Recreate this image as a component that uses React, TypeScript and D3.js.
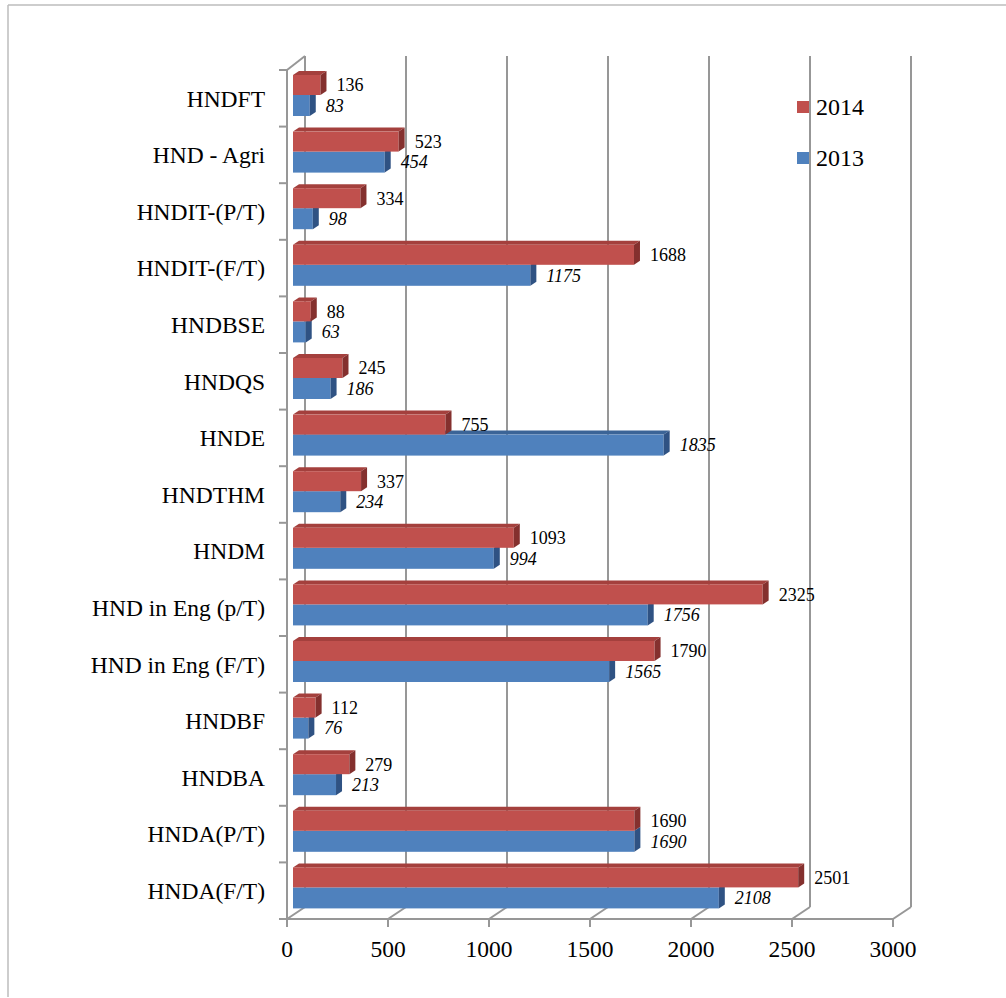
import * as d3 from 'd3';

const categories = [
  'HNDFT',
  'HND - Agri',
  'HNDIT-(P/T)',
  'HNDIT-(F/T)',
  'HNDBSE',
  'HNDQS',
  'HNDE',
  'HNDTHM',
  'HNDM',
  'HND in Eng (p/T)',
  'HND in Eng (F/T)',
  'HNDBF',
  'HNDBA',
  'HNDA(P/T)',
  'HNDA(F/T)',
];
const values2014 = [136, 523, 334, 1688, 88, 245, 755, 337, 1093, 2325, 1790, 112, 279, 1690, 2501];
const values2013 = [83, 454, 98, 1175, 63, 186, 1835, 234, 994, 1756, 1565, 76, 213, 1690, 2108];
const xTicks = [0, 500, 1000, 1500, 2000, 2500, 3000];
const seriesNames = ['2014', '2013'];

const W = 1006;
const H = 998;
const FONT = '"Liberation Serif", "Times New Roman", serif';
const GRID = '#979797';

// plot geometry (front plane of the 3D box)
const frontX = 287;
const floorY = 919;
const topY = 70;
const depthX = 18;
const depthY = -12;
const barX = 293; // bars sit between front and back
const barDX = 6;
const barDY = -4;

const RED = { front: '#C0504D', top: '#A4403D', side: '#84302E' };
const BLUE = { front: '#4F81BD', top: '#3B6497', side: '#2F5283' };

export default function App() {
  const x = d3.scaleLinear().domain([0, 3000]).range([0, 606]);
  const y = d3.scaleBand<string>().domain(categories).range([topY, floorY]).padding(0);
  const bw = y.bandwidth();

  const bar = (v: number, yt: number, yb: number, c: typeof RED, key: string, hideTop: boolean) => {
    const x0 = barX;
    const xe = barX + x(v);
    const top = `M${x0},${yt} L${x0 + barDX},${yt + barDY} L${xe + barDX},${yt + barDY} L${xe},${yt} Z`;
    const side = `M${xe},${yt} L${xe + barDX},${yt + barDY} L${xe + barDX},${yb + barDY} L${xe},${yb} Z`;
    return (
      <g key={key}>
        {!hideTop && <path d={top} fill={c.top} />}
        <rect x={x0} y={yt} width={xe - x0} height={yb - yt} fill={c.front} />
        <path d={side} fill={c.side} />
      </g>
    );
  };

  return (
    <svg
      width={W}
      height={H}
      style={{ position: 'absolute', left: 0, top: 0, background: '#fff' }}
      fontFamily={FONT}
    >
      {/* outer frame */}
      <line x1={8} y1={5} x2={W} y2={5} stroke="#bdbdbd" strokeWidth={1.5} />
      <line x1={8} y1={5} x2={8} y2={997} stroke="#bdbdbd" strokeWidth={1.5} />

      {/* back wall gridlines + floor lines */}
      <g stroke={GRID} strokeWidth={2} fill="none">
        {xTicks.map((t) => (
          <g key={t}>
            <line
              x1={frontX + depthX + x(t)}
              y1={floorY + depthY}
              x2={frontX + depthX + x(t)}
              y2={topY - 14}
            />
            <line
              x1={frontX + x(t)}
              y1={floorY}
              x2={frontX + depthX + x(t)}
              y2={floorY + depthY}
            />
            <line x1={frontX + x(t)} y1={floorY} x2={frontX + x(t)} y2={floorY + 8} />
          </g>
        ))}
        <line x1={frontX} y1={floorY} x2={frontX + x(3000)} y2={floorY} />
        {/* left wall */}
        <line x1={frontX} y1={topY} x2={frontX} y2={floorY} />
        <line x1={frontX} y1={topY} x2={frontX + depthX} y2={topY - 14} />
        {categories.map((c) => (
          <line key={c} x1={frontX - 8} y1={y(c)!} x2={frontX} y2={y(c)!} />
        ))}
        <line x1={frontX - 8} y1={floorY} x2={frontX} y2={floorY} />
      </g>

      {/* bars */}
      {categories.map((c, i) => {
        const b = y(c)!;
        const rt = b + 5;
        const mid = b + 25;
        const bb = b + 46;
        return (
          <g key={c}>
            {bar(values2013[i], mid, bb, BLUE, 'b', values2013[i] <= values2014[i])}
            {bar(values2014[i], rt, mid, RED, 'r', false)}
            <text
              x={barX + x(values2014[i]) + 16}
              y={(rt + mid) / 2}
              dy="0.35em"
              fontSize={18}
              fill="#000"
            >
              {values2014[i]}
            </text>
            <text
              x={barX + x(values2013[i]) + 16}
              y={(mid + bb) / 2}
              dy="0.35em"
              fontSize={18}
              fontStyle="italic"
              fill="#000"
            >
              {values2013[i]}
            </text>
            <text
              x={265}
              y={b + bw / 2}
              dy="0.35em"
              textAnchor="end"
              fontSize={23.5}
              fill="#000"
            >
              {c}
            </text>
          </g>
        );
      })}

      {/* x tick labels */}
      {xTicks.map((t) => (
        <text
          key={t}
          x={frontX + x(t)}
          y={957}
          textAnchor="middle"
          fontSize={23.5}
          fill="#000"
        >
          {t}
        </text>
      ))}

      {/* legend */}
      {seriesNames.map((s, i) => (
        <g key={s} transform={`translate(797,${101 + i * 51})`}>
          <rect width={12} height={12} fill={i === 0 ? RED.front : BLUE.front} />
          <text x={19} y={14} fontSize={24} fill="#000">
            {s}
          </text>
        </g>
      ))}
    </svg>
  );
}
